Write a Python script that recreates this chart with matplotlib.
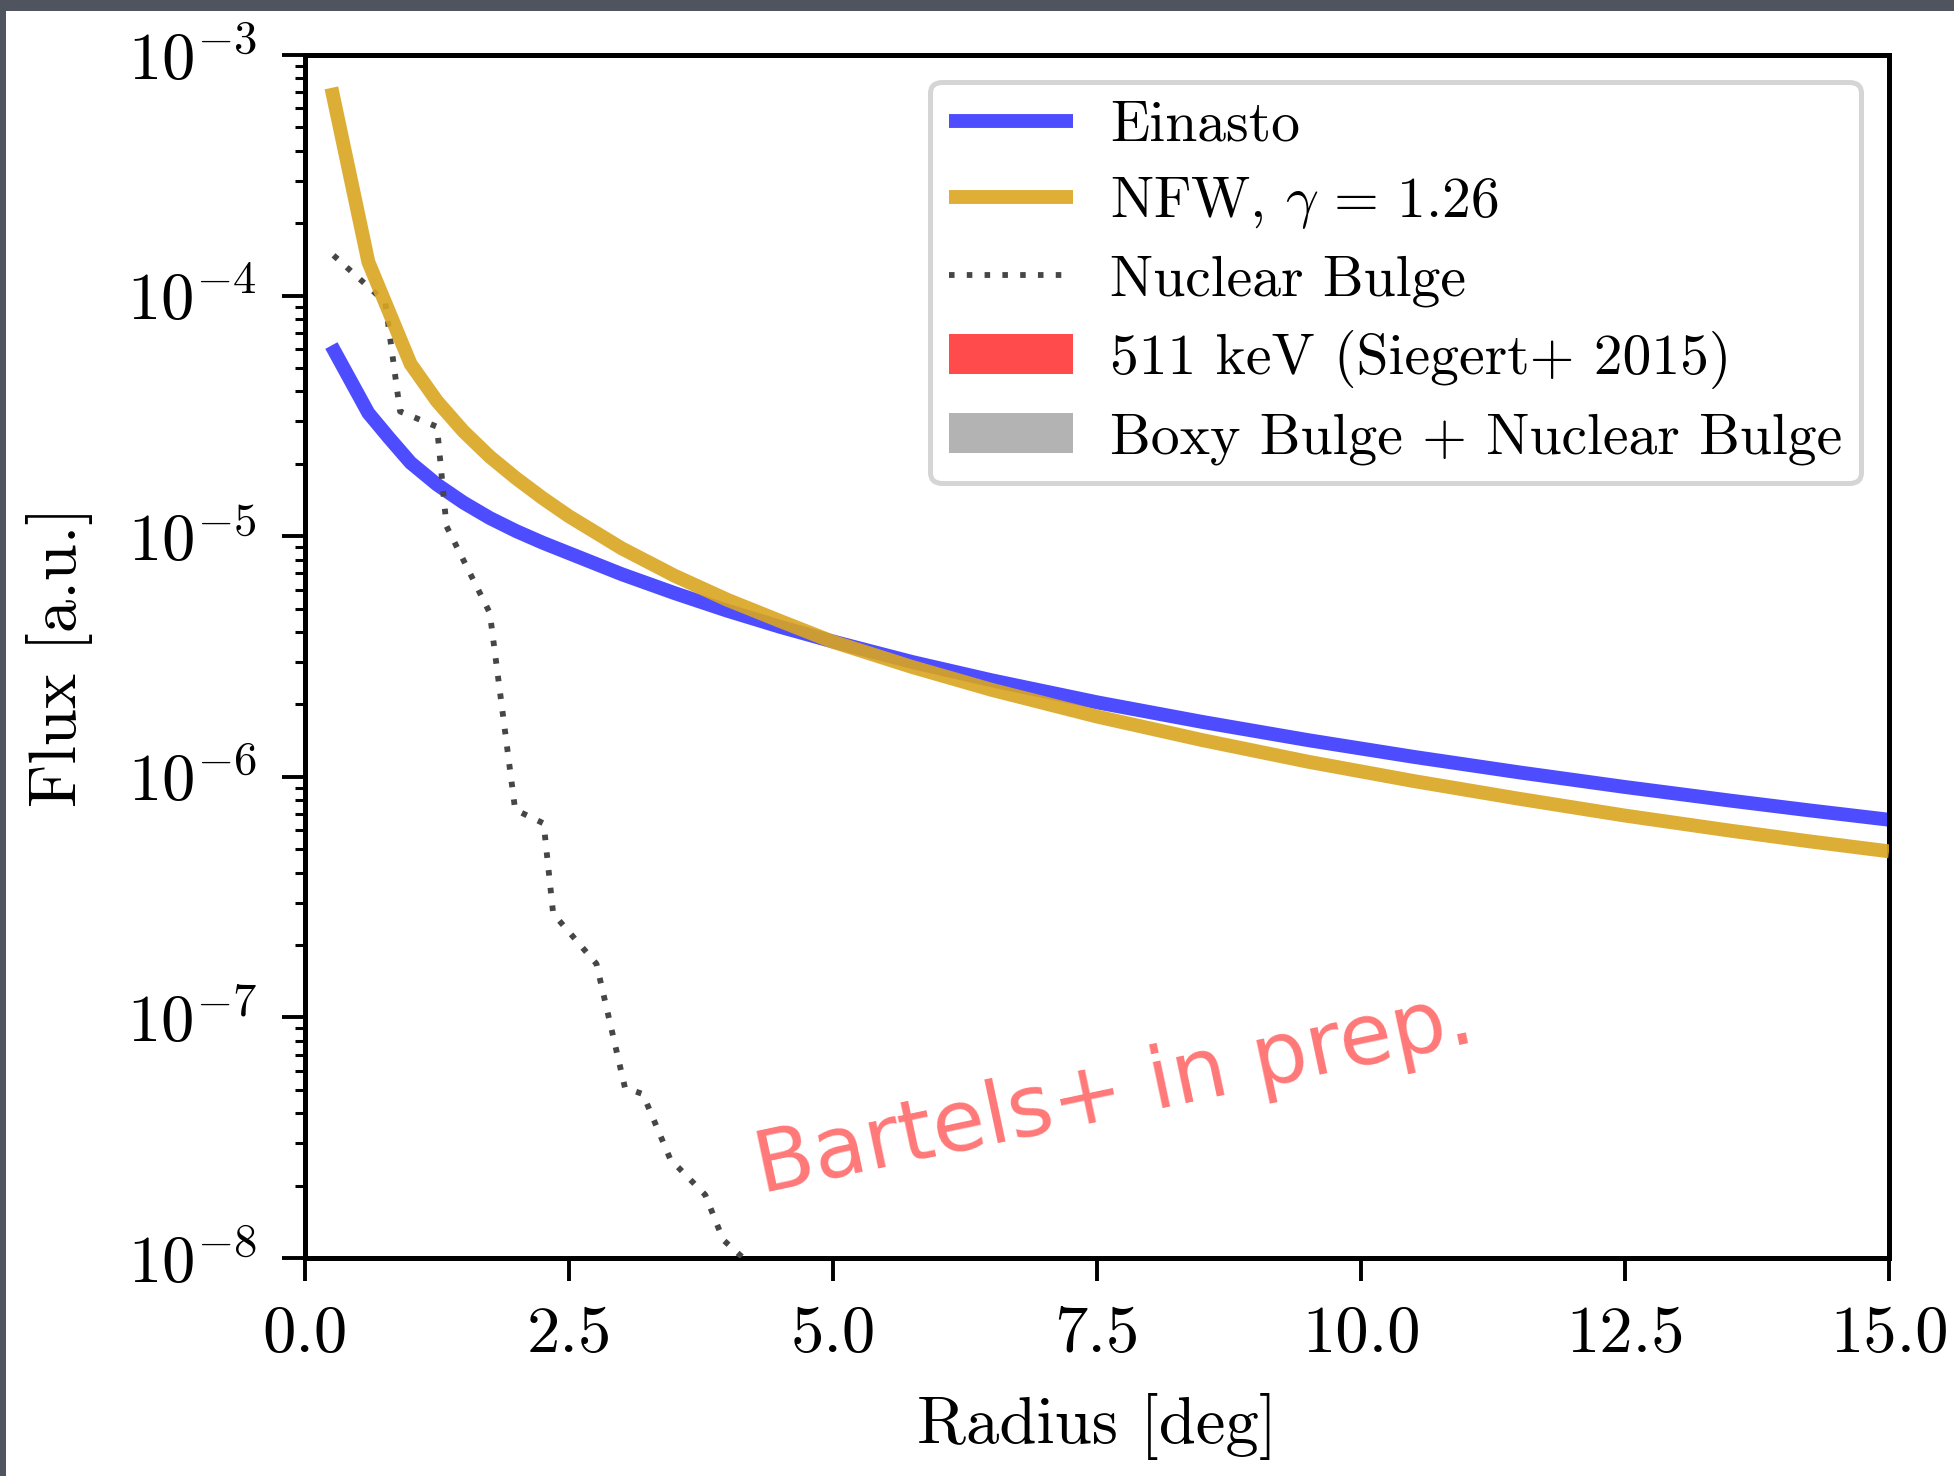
import math
import matplotlib
matplotlib.use("Agg")
import matplotlib.pyplot as plt
from matplotlib.patches import Patch, Rectangle
from matplotlib.lines import Line2D
from matplotlib.ticker import LogLocator, FuncFormatter, NullFormatter, FixedLocator

# ---------------- data ----------------
einasto_r = [0.25, 0.6, 0.8, 1.0, 1.25, 1.5, 1.75, 2.0, 2.25, 2.5, 3.0, 3.5, 4.0, 4.5, 5.0,
             5.75, 6.5, 7.5, 8.5, 9.5, 10.5, 11.5, 12.5, 13.5, 14.25, 15.0]
einasto_f = [6.2e-5, 3.25e-5, 2.55e-5, 2.02e-5, 1.64e-5, 1.38e-5, 1.19e-5, 1.05e-5, 9.4e-6, 8.5e-6,
             6.95e-6, 5.8e-6, 4.9e-6, 4.2e-6, 3.65e-6, 3.0e-6, 2.52e-6, 2.04e-6, 1.69e-6, 1.42e-6,
             1.21e-6, 1.043e-6, 9.07e-7, 7.96e-7, 7.25e-7, 6.63e-7]

nfw_r = [0.25, 0.6, 1.0, 1.25, 1.5, 1.75, 2.0, 2.25, 2.5, 3.0, 3.5, 4.0, 4.5, 5.0,
         5.75, 6.5, 7.5, 8.5, 9.5, 10.5, 11.5, 12.5, 13.5, 14.25, 15.0]
nfw_f = [7.3e-4, 1.38e-4, 5.2e-5, 3.64e-5, 2.73e-5, 2.14e-5, 1.74e-5, 1.44e-5, 1.21e-5, 8.9e-6,
         6.85e-6, 5.44e-6, 4.44e-6, 3.64e-6, 2.86e-6, 2.3e-6, 1.78e-6, 1.42e-6, 1.155e-6, 9.6e-7,
         8.1e-7, 6.9e-7, 5.97e-7, 5.39e-7, 4.9e-7]

nuc_r = [0.27, 0.76, 0.90, 1.25, 1.34, 1.75, 1.99, 2.26, 2.35, 2.76, 3.03, 3.20, 3.46, 3.79, 3.96, 4.15, 4.40]
nuc_f = [1.47e-4, 9.4e-5, 3.3e-5, 2.85e-5, 1.1e-5, 4.8e-6, 7.3e-7, 6.4e-7, 2.7e-7, 1.67e-7, 5.1e-8,
         4.8e-8, 2.57e-8, 1.83e-8, 1.19e-8, 1.0e-8, 7.0e-9]

labels = ["Einasto", r"NFW, $\gamma\,=\,1.26$", "Nuclear Bulge", "511 keV (Siegert+ 2015)",
          "Boxy Bulge + Nuclear Bulge"]
xticks = [0.0, 2.5, 5.0, 7.5, 10.0, 12.5, 15.0]
annotation = "Bartels+ in prep."

# ---------------- style ----------------
plt.rcParams["font.family"] = "serif"
plt.rcParams["font.serif"] = ["cmr10", "DejaVu Serif"]
plt.rcParams["mathtext.fontset"] = "cm"
plt.rcParams["axes.unicode_minus"] = False
plt.rcParams["axes.formatter.use_mathtext"] = True

W, H = 1954, 1476
fig = plt.figure(figsize=(W / 100, H / 100), dpi=100)
fig.patch.set_facecolor("white")

# dark slide frame at top and left
fig.patches.append(Rectangle((0, 1 - 11 / H), 1, 11 / H, transform=fig.transFigure,
                             facecolor="#50545f", edgecolor="none", zorder=0))
fig.patches.append(Rectangle((0, 0), 6 / W, 1, transform=fig.transFigure,
                             facecolor="#50545f", edgecolor="none", zorder=0))

ax = fig.add_axes([305 / W, 218 / H, (1889 - 305) / W, (1258 - 55) / H])

blue = "#4d4dff"
gold = "#deae36"
dots = (0, (0.95, 2.1))
ax.plot(einasto_r, einasto_f, color=blue, lw=10, solid_capstyle="butt", solid_joinstyle="miter", zorder=2)
ax.plot(nuc_r, nuc_f, color="#464646", lw=4.2, linestyle=dots, zorder=3)
ax.plot(nfw_r, nfw_f, color="goldenrod", alpha=0.9, lw=10, solid_capstyle="butt", solid_joinstyle="miter", zorder=4)

ax.set_yscale("log")
ax.set_xlim(0, 15)
ax.set_ylim(1e-8, 1e-3)

ax.xaxis.set_major_locator(FixedLocator(xticks))
ax.set_xticklabels([f"{v:.1f}" for v in xticks])
ax.yaxis.set_major_locator(LogLocator(base=10, numticks=20))
ax.yaxis.set_minor_locator(LogLocator(base=10, subs=range(2, 10), numticks=20))
ax.yaxis.set_major_formatter(FuncFormatter(lambda v, p: r"$10^{%d}$" % round(math.log10(v))))
ax.yaxis.set_minor_formatter(NullFormatter())

for s in ax.spines.values():
    s.set_linewidth(3.6)
ax.tick_params(which="major", direction="out", length=16.5, width=2.8, labelsize=48, pad=18)
ax.tick_params(which="minor", direction="out", length=7.5, width=2.2)

ax.set_xlabel("Radius [deg]", fontsize=48)
ax.set_ylabel("Flux [a.u.]", fontsize=48)
ax.xaxis.set_label_coords(0.5, -0.112)
ax.yaxis.set_label_coords(-0.134, 0.5)

handles = [
    Line2D([], [], color=blue, lw=10, solid_capstyle="butt"),
    Line2D([], [], color=gold, lw=10, solid_capstyle="butt"),
    Line2D([], [], color="#464646", lw=4.2, linestyle=dots),
    Patch(facecolor="#ff4b4b", edgecolor="none"),
    Patch(facecolor="#b3b3b3", edgecolor="none"),
]
leg = ax.legend(handles, labels, loc="upper right", bbox_to_anchor=(0.9823, 0.9776),
                borderaxespad=0, fontsize=41.5, handlelength=2.15, handletextpad=0.65,
                fancybox=True, framealpha=1, edgecolor="#d5d5d5", borderpad=0.32,
                labelspacing=0.41)
leg.get_frame().set_linewidth(3.6)
leg.set_zorder(6)

ax.text(761, 1476 - 1193, annotation, transform=None, fontsize=62, color="#ff7878",
        rotation=12, rotation_mode="anchor", ha="left", va="baseline",
        family="DejaVu Sans", zorder=5)

fig.savefig("out.png", dpi=100)
